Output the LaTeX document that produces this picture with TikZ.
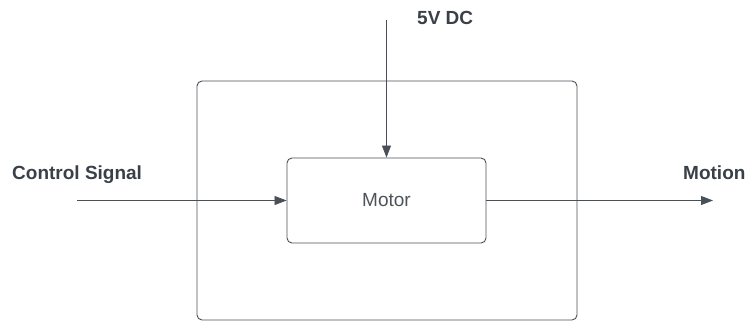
\documentclass[tikz,border=0pt]{standalone}
\usepackage{fontspec}
\setmainfont{Liberation Sans}
\usetikzlibrary{arrows.meta, positioning}
\definecolor{cLine}{HTML}{4A5058}
\definecolor{cText}{HTML}{3A4048}

\begin{document}
\begin{tikzpicture}[
  x=1pt, y=-1pt,
  font=\fontsize{19}{21}\selectfont,
  >={Triangle[length=12pt, width=9pt]},
  box/.style   = {rectangle, draw=cLine, line width=0.9pt, rounded corners=5pt,
                  inner sep=0pt, text=cText!90},
  arr/.style   = {->, draw=cLine, line width=0.8pt, color=cLine},
  lab/.style   = {font=\fontsize{19}{21}\selectfont\bfseries, text=cText,
                  inner sep=0pt}]
\useasboundingbox (0,0) rectangle (746,321);

% ---- enclosing system and the motor ---------------------------------------
\node[box, minimum width=380pt, minimum height=239pt] (system) at (387,200.5) {};
\node[box, minimum width=199pt, minimum height=85pt] (motor) at (386.5,200.5) {Motor};

% free ends of the connectors
\coordinate (ctrlin)  at (77,200.5);
\coordinate (dcin)    at (386.5,20);
\coordinate (moveout) at (713,200.5);

% ---- labels ----------------------------------------------------------------
\node[lab, anchor=base west] (ctrllab) at (12,179) {Control Signal};
\node[lab, anchor=base west] (dclab)   at (417,25) {5V DC};
\node[lab, anchor=base west] (movelab) at (683,179) {Motion};

% ---- connectors ------------------------------------------------------------
\draw[arr] (ctrlin) -- (motor.west);
\draw[arr] (dcin) -- (motor.north);
\draw[arr] (motor.east) -- (moveout);

\end{tikzpicture}
\end{document}
